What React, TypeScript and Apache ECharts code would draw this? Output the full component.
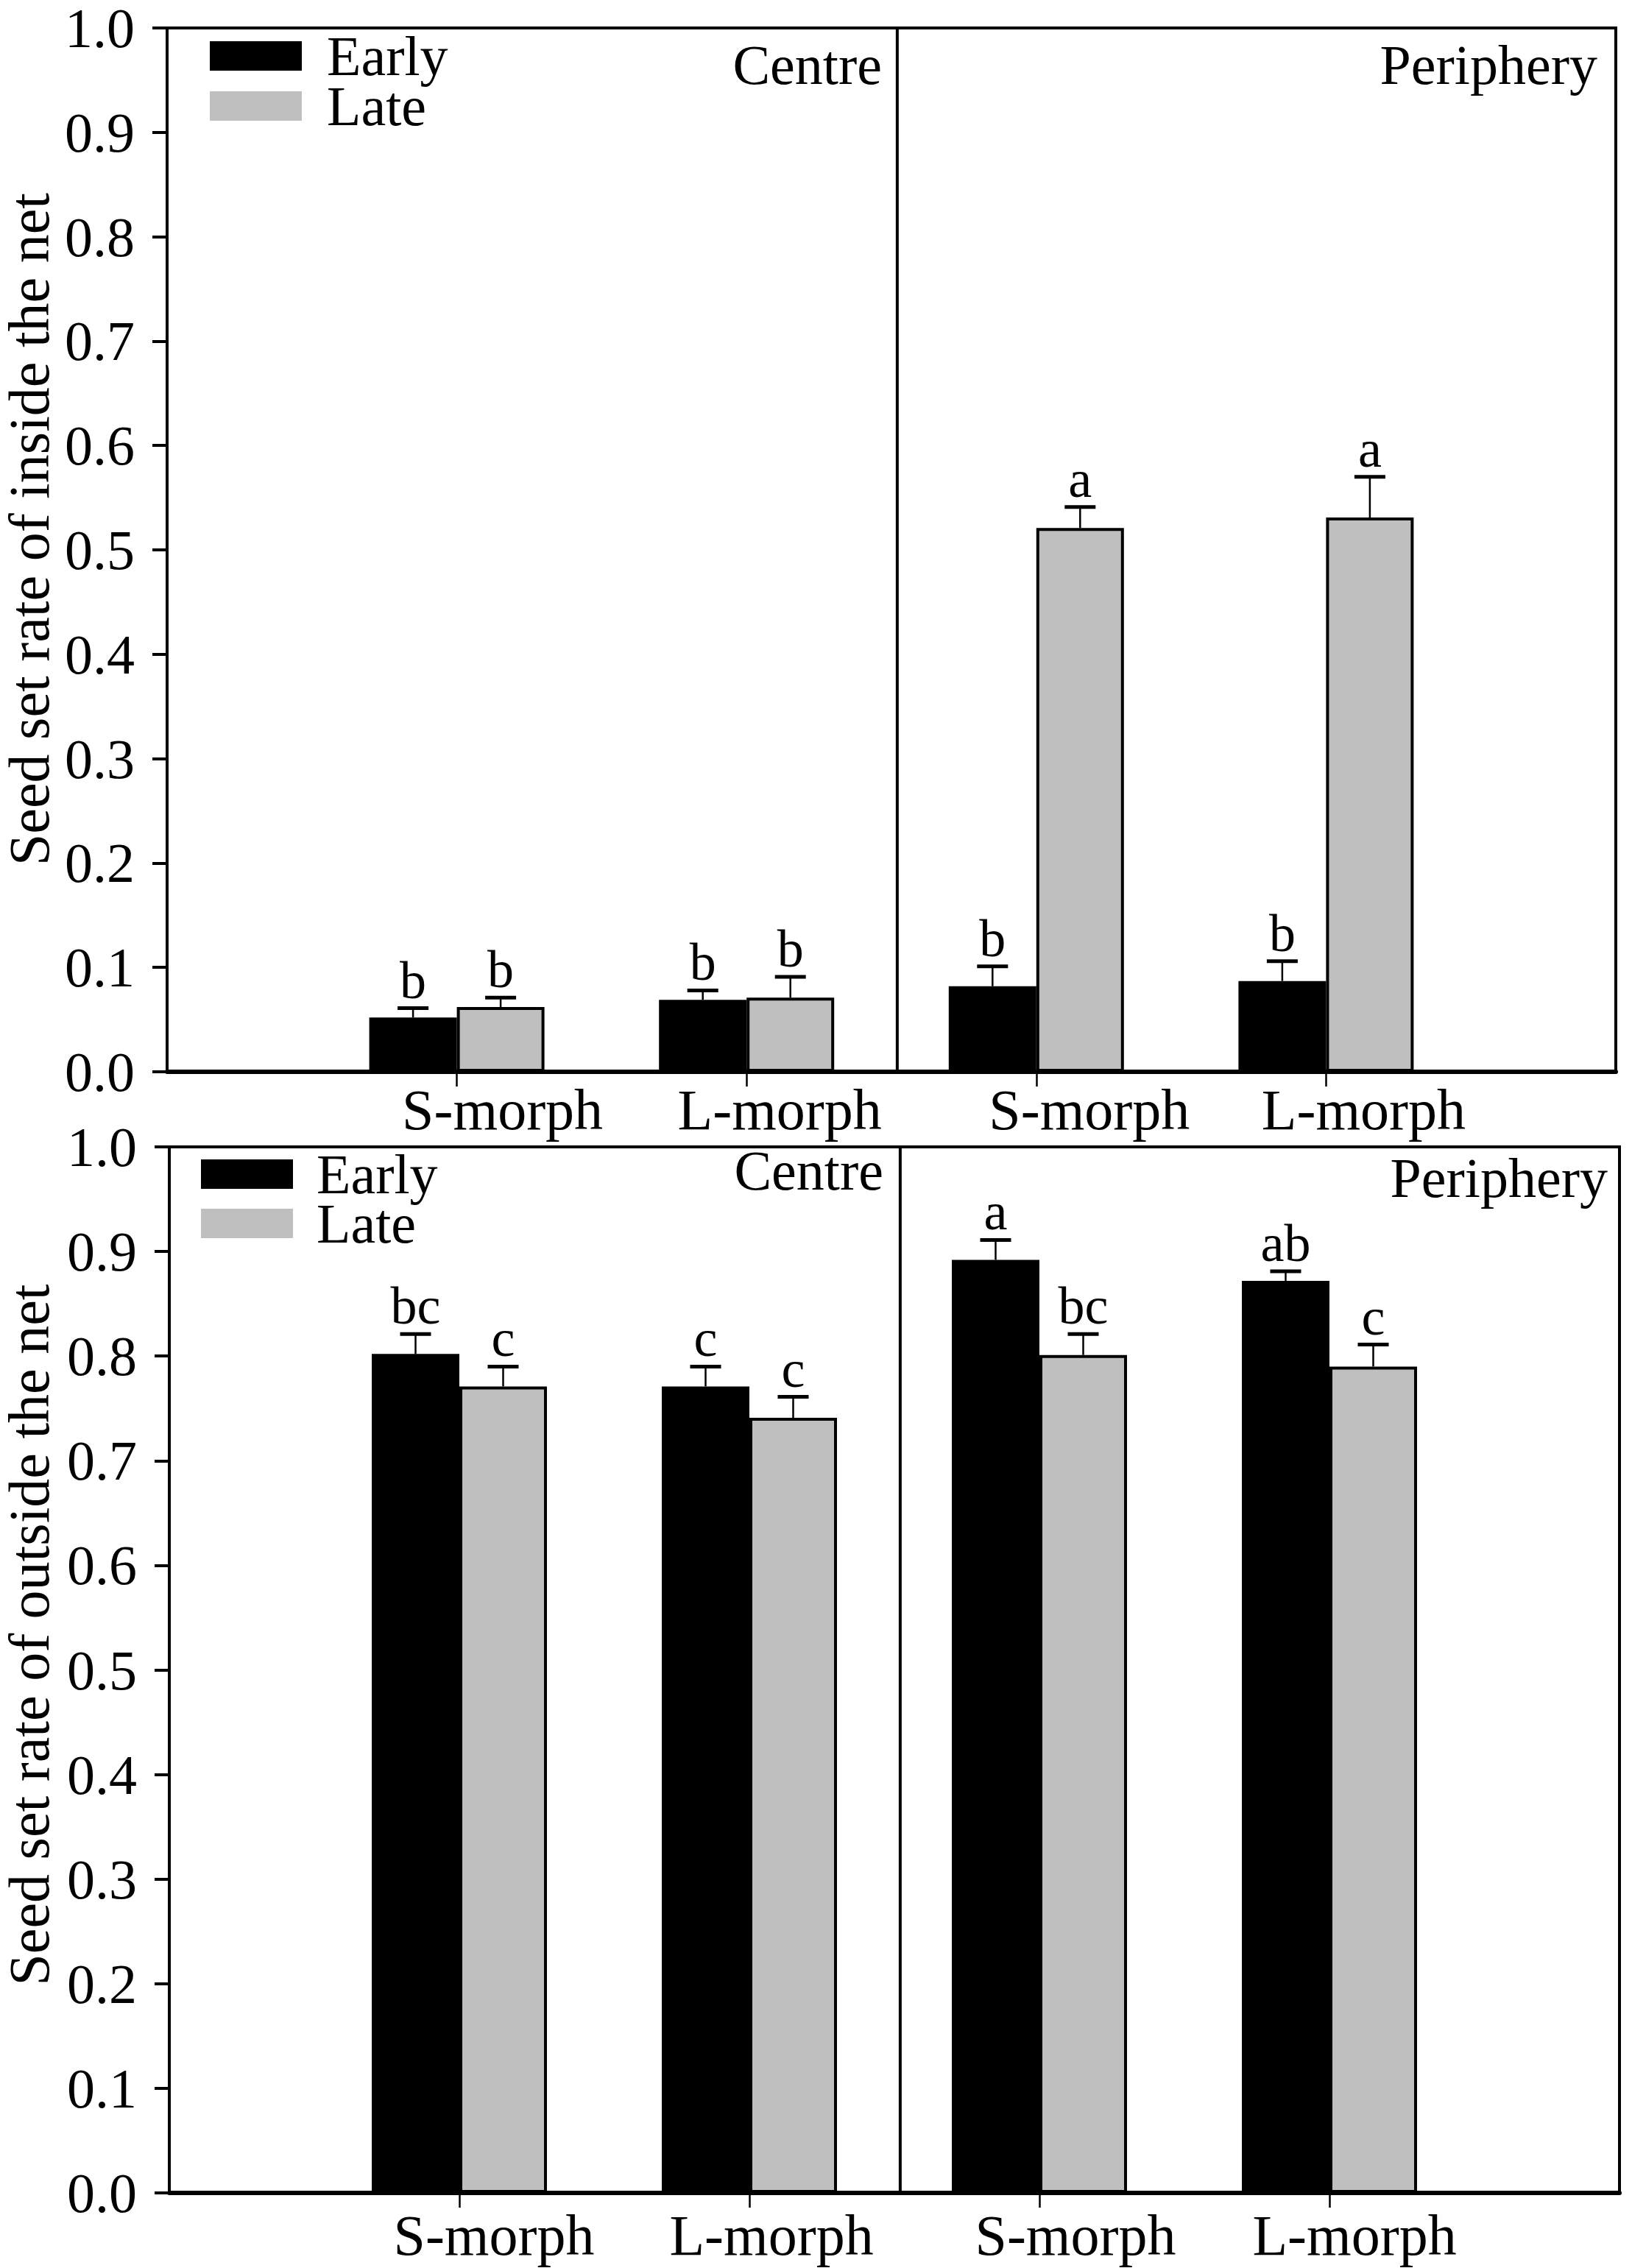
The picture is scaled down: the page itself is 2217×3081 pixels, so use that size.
import React, { useEffect, useRef } from "react";
import * as echarts from "echarts";

// ---------- data ----------
const categories = ["", "S-morph", "L-morph", "S-morph", "L-morph", ""];
const seriesNames = ["Early", "Late"];
const panelNames = ["Centre", "Periphery"];
const yTitles = ["Seed set rate of inside the net", "Seed set rate of outside the net"];

const insideEarly = [null, 0.052, 0.069, 0.082, 0.087, null];
const insideEarlyErr = [null, 0.061, 0.078, 0.101, 0.106, null];
const insideLate = [null, 0.062, 0.071, 0.521, 0.531, null];
const insideLateErr = [null, 0.071, 0.091, 0.541, 0.570, null];
const insideEarlyLetters = ["", "b", "b", "b", "b", ""];
const insideLateLetters = ["", "b", "b", "a", "a", ""];

const outsideEarly = [null, 0.802, 0.771, 0.892, 0.872, null];
const outsideEarlyErr = [null, 0.821, 0.790, 0.911, 0.881, null];
const outsideLate = [null, 0.771, 0.741, 0.801, 0.790, null];
const outsideLateErr = [null, 0.790, 0.761, 0.821, 0.811, null];
const outsideEarlyLetters = ["", "bc", "c", "a", "ab", ""];
const outsideLateLetters = ["", "c", "c", "bc", "c", ""];

const yMin = 0;
const yMax = 1;
const yStep = 0.1;
const dividerAt = 2.52;

// ---------- styling ----------
const FONT = "Liberation Serif";
const BLACK = "#000000";
const GREY = "#bfbfbf";
const BAR_W = 119;

function errorSeries(values: any[], errs: any[], letters: string[], offset: number, gi: number) {
  const data: any[] = [];
  values.forEach((v, i) => {
    if (v != null) data.push([i, v, errs[i]]);
  });
  return {
    type: "custom",
    xAxisIndex: gi * 2,
    yAxisIndex: gi,
    silent: true,
    z: 5,
    data,
    renderItem: (params: any, api: any) => {
      const i = api.value(0);
      const v = api.value(1);
      const e = api.value(2);
      const base = api.coord([i, v]);
      const top = api.coord([i, e]);
      const x = base[0] + offset;
      return {
        type: "group",
        children: [
          { type: "line", shape: { x1: x, y1: base[1], x2: x, y2: top[1] }, style: { stroke: BLACK, lineWidth: 2.5 } },
          { type: "line", shape: { x1: x - 21, y1: top[1], x2: x + 21, y2: top[1] }, style: { stroke: BLACK, lineWidth: 5 } },
          {
            type: "text",
            x,
            y: top[1] - 2,
            style: {
              text: letters[i],
              fill: BLACK,
              fontSize: 72,
              fontFamily: FONT,
              align: "center",
              verticalAlign: "bottom",
            },
          },
        ],
      };
    },
  };
}

function App() {
  const ref = useRef<HTMLDivElement>(null);
  useEffect(() => {
    if (!ref.current) return;
    const chart = echarts.init(ref.current, null, { renderer: "svg" });

    const grids = [
      { left: 227, top: 38, width: 1968, height: 1418 },
      { left: 230, top: 1558, width: 1970, height: 1421 },
    ];
    const labelOffsets = [
      [0, 62, 45, 72, 51, 0],
      [0, 47, 30, 49, 34, 0],
    ];
    const labelMargins = [12, 18];

    const xAxes: any[] = [];
    const yAxes: any[] = [];
    grids.forEach((g, gi) => {
      const rich: any = {};
      labelOffsets[gi].forEach((o, k) => {
        rich["o" + k] = { fontSize: 78, fontFamily: FONT, color: BLACK, padding: [0, 0, 0, o * 2] };
      });
      xAxes.push({
        type: "category",
        gridIndex: gi,
        data: categories,
        boundaryGap: false,
        axisLine: { show: true, lineStyle: { color: BLACK, width: 6 } },
        axisTick: {
          show: true,
          length: 20,
          interval: (idx: number) => idx > 0 && idx < categories.length - 1,
          lineStyle: { color: BLACK, width: 2.5 },
        },
        axisLabel: {
          show: true,
          interval: (idx: number) => idx > 0 && idx < categories.length - 1,
          margin: labelMargins[gi],
          fontSize: 78,
          fontFamily: FONT,
          color: BLACK,
          formatter: (val: string, idx: number) => (val ? `{o${idx}|${val}}` : ""),
          rich,
        },
        splitLine: { show: false },
        z: 10,
      });
      xAxes.push({
        type: "value",
        gridIndex: gi,
        min: 0,
        max: categories.length - 1,
        show: false,
      });
      yAxes.push({
        type: "value",
        gridIndex: gi,
        min: yMin,
        max: yMax,
        interval: yStep,
        axisLine: { show: true, lineStyle: { color: BLACK, width: 3.5 } },
        axisTick: { show: true, inside: false, length: 20, lineStyle: { color: BLACK, width: 4 } },
        axisLabel: {
          show: true,
          margin: 44,
          fontSize: 76,
          fontFamily: FONT,
          color: BLACK,
          formatter: (v: number) => v.toFixed(1),
        },
        splitLine: { show: false },
        z: 10,
      });
    });

    const sets = [
      { e: insideEarly, eErr: insideEarlyErr, eL: insideEarlyLetters, l: insideLate, lErr: insideLateErr, lL: insideLateLetters },
      { e: outsideEarly, eErr: outsideEarlyErr, eL: outsideEarlyLetters, l: outsideLate, lErr: outsideLateErr, lL: outsideLateLetters },
    ];

    const series: any[] = [];
    sets.forEach((s, gi) => {
      series.push({
        type: "bar",
        name: seriesNames[0],
        xAxisIndex: gi * 2,
        yAxisIndex: gi,
        data: s.e,
        barWidth: BAR_W,
        barGap: "0%",
        itemStyle: { color: BLACK, borderColor: BLACK, borderWidth: 3 },
        z: 3,
      });
      series.push({
        type: "bar",
        name: seriesNames[1],
        xAxisIndex: gi * 2,
        yAxisIndex: gi,
        data: s.l,
        barWidth: BAR_W,
        barGap: "0%",
        itemStyle: { color: GREY, borderColor: BLACK, borderWidth: 4 },
        z: 3,
      });
      series.push(errorSeries(s.e, s.eErr, s.eL, -BAR_W / 2, gi));
      series.push(errorSeries(s.l, s.lErr, s.lL, BAR_W / 2, gi));
      series.push({
        type: "line",
        xAxisIndex: gi * 2 + 1,
        yAxisIndex: gi,
        data: [
          [dividerAt, yMin],
          [dividerAt, yMax],
        ],
        symbol: "none",
        silent: true,
        lineStyle: { color: BLACK, width: 4 },
        z: 4,
      });
    });

    const legendBase = {
      orient: "vertical",
      padding: 0,
      icon: "rect",
      itemWidth: 125,
      itemHeight: 40,
      selectedMode: false,
      data: [
        { name: seriesNames[0], itemStyle: { color: BLACK, borderWidth: 0 } },
        { name: seriesNames[1], itemStyle: { color: GREY, borderWidth: 0 } },
      ],
    };

    const option: any = {
      animation: false,
      backgroundColor: "#ffffff",
      textStyle: { fontFamily: FONT, color: BLACK },
      grid: grids.map((g) => ({ ...g, show: true, borderColor: BLACK, borderWidth: 4, backgroundColor: "transparent" })),
      xAxis: xAxes,
      yAxis: yAxes,
      legend: [
        {
          ...legendBase,
          left: 285,
          top: 38,
          itemGap: -8,
          textStyle: { fontSize: 76, fontFamily: FONT, color: BLACK, padding: [0, 0, 0, 29] },
        },
        {
          ...legendBase,
          left: 273,
          top: 1557,
          itemGap: -9,
          textStyle: { fontSize: 76, fontFamily: FONT, color: BLACK, padding: [0, 0, 0, 27] },
        },
      ],
      graphic: [
        { type: "text", x: 39, y: 719, rotation: Math.PI / 2, style: { text: yTitles[0], fontSize: 78, fontFamily: FONT, fill: BLACK, align: "center", verticalAlign: "middle" } },
        { type: "text", x: 39, y: 2221, rotation: Math.PI / 2, style: { text: yTitles[1], fontSize: 78, fontFamily: FONT, fill: BLACK, align: "center", verticalAlign: "middle" } },
        { type: "text", x: 1198, y: 88, style: { text: panelNames[0], fontSize: 76, fontFamily: FONT, fill: BLACK, align: "right", verticalAlign: "middle" } },
        { type: "text", x: 2170, y: 88, style: { text: panelNames[1], fontSize: 76, fontFamily: FONT, fill: BLACK, align: "right", verticalAlign: "middle" } },
        { type: "text", x: 1200, y: 1590, style: { text: panelNames[0], fontSize: 76, fontFamily: FONT, fill: BLACK, align: "right", verticalAlign: "middle" } },
        { type: "text", x: 2184, y: 1600, style: { text: panelNames[1], fontSize: 76, fontFamily: FONT, fill: BLACK, align: "right", verticalAlign: "middle" } },
      ],
      series,
    };

    chart.setOption(option);
    return () => chart.dispose();
  }, []);

  return (
    <div
      ref={ref}
      style={{ position: "absolute", left: 0, top: 0, width: 2217, height: 3081, background: "#fff" }}
    />
  );
}

export default App;
